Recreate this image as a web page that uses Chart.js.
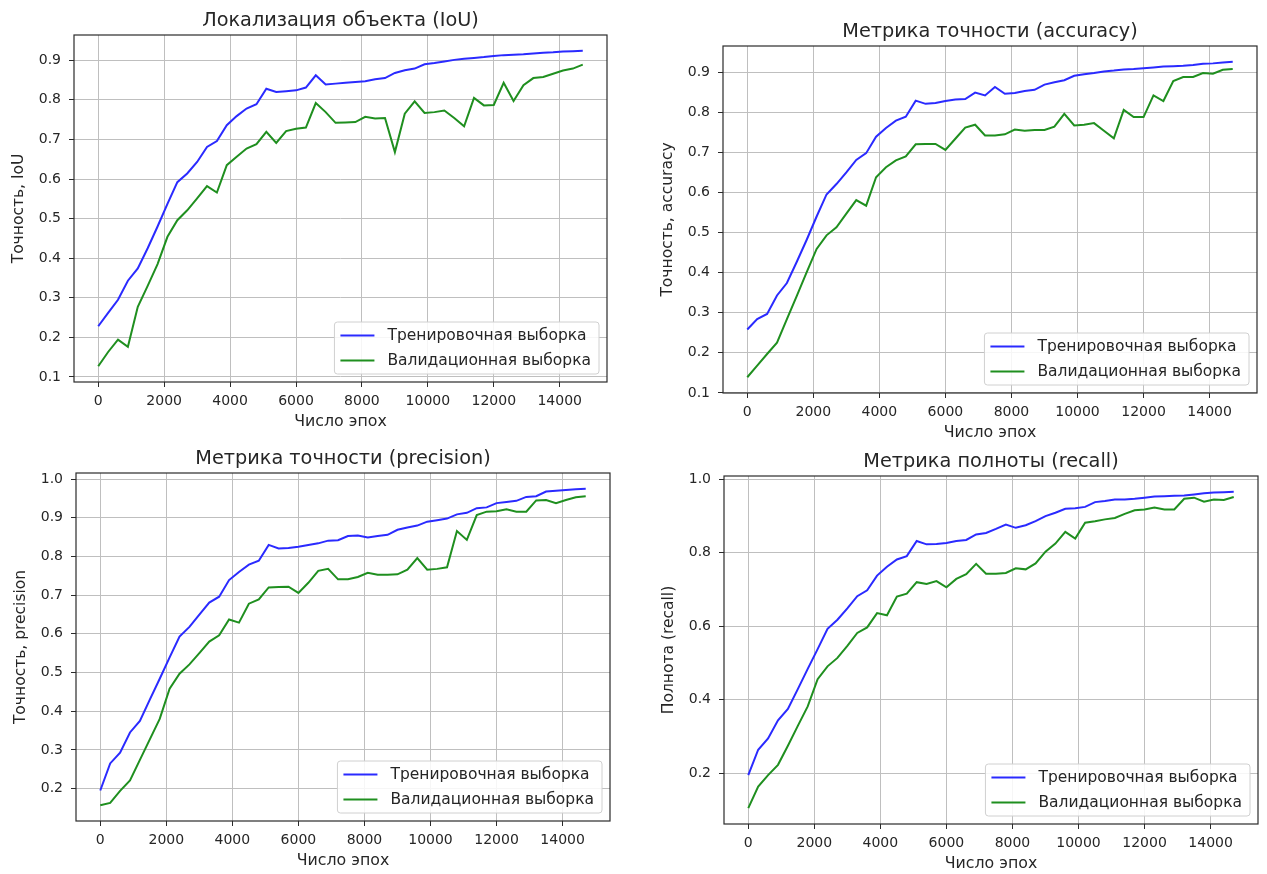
<!DOCTYPE html>
<html>
<head>
<meta charset="utf-8">
<script src="https://cdn.jsdelivr.net/npm/chart.js@4.4.1/dist/chart.umd.min.js"></script>
<style>
  html, body { margin: 0; padding: 0; background: #ffffff; }
  #wrap { position: relative; width: 1267px; height: 874px; overflow: hidden; background: #ffffff; }
  #wrap canvas { position: absolute; left: 0; top: 0; }
</style>
</head>
<body>
<div id="wrap">
  <canvas id="cIou" width="1267" height="874"></canvas>
  <canvas id="cAcc" width="1267" height="874"></canvas>
  <canvas id="cPrec" width="1267" height="874"></canvas>
  <canvas id="cRec" width="1267" height="874"></canvas>
</div>
<script>
// Training epochs at which the metrics were logged
const epochs = [0, 300, 600, 900, 1200, 1500, 1800, 2100, 2400, 2700,
  3000, 3300, 3600, 3900, 4200, 4500, 4800, 5100, 5400, 5700,
  6000, 6300, 6600, 6900, 7200, 7500, 7800, 8100, 8400, 8700,
  9000, 9300, 9600, 9900, 10200, 10500, 10800, 11100, 11400, 11700,
  12000, 12300, 12600, 12900, 13200, 13500, 13800, 14100, 14400, 14700];

// IoU
const iouTrain = [0.228, 0.262, 0.295, 0.343, 0.374, 0.425, 0.480, 0.537, 0.592, 0.614,
  0.643, 0.681, 0.696, 0.736, 0.759, 0.778, 0.789, 0.828, 0.820, 0.822,
  0.824, 0.831, 0.862, 0.839, 0.841, 0.843, 0.845, 0.847, 0.852, 0.855,
  0.868, 0.875, 0.879, 0.890, 0.893, 0.897, 0.901, 0.904, 0.906, 0.908,
  0.911, 0.913, 0.914, 0.915, 0.917, 0.919, 0.920, 0.922, 0.923, 0.924];
const iouVal = [0.127, 0.163, 0.194, 0.176, 0.277, 0.330, 0.385, 0.454, 0.496, 0.521,
  0.551, 0.582, 0.566, 0.635, 0.656, 0.677, 0.688, 0.719, 0.691, 0.721,
  0.727, 0.730, 0.792, 0.769, 0.742, 0.743, 0.744, 0.757, 0.753, 0.754,
  0.668, 0.765, 0.796, 0.767, 0.769, 0.773, 0.754, 0.733, 0.805, 0.786,
  0.787, 0.843, 0.797, 0.837, 0.855, 0.858, 0.866, 0.874, 0.879, 0.889];

// accuracy
const accTrain = [0.258, 0.284, 0.297, 0.343, 0.374, 0.427, 0.482, 0.540, 0.595, 0.621,
  0.650, 0.681, 0.698, 0.739, 0.761, 0.779, 0.789, 0.829, 0.821, 0.823,
  0.828, 0.832, 0.833, 0.849, 0.842, 0.863, 0.846, 0.848, 0.853, 0.856,
  0.869, 0.875, 0.880, 0.891, 0.895, 0.898, 0.902, 0.904, 0.907, 0.908,
  0.910, 0.912, 0.914, 0.915, 0.916, 0.918, 0.921, 0.922, 0.924, 0.926];
const accVal = [0.139, 0.168, 0.197, 0.225, 0.284, 0.342, 0.401, 0.459, 0.493, 0.513,
  0.547, 0.581, 0.567, 0.638, 0.663, 0.680, 0.690, 0.720, 0.721, 0.721,
  0.706, 0.734, 0.762, 0.769, 0.742, 0.742, 0.745, 0.757, 0.754, 0.756,
  0.756, 0.764, 0.796, 0.767, 0.769, 0.773, 0.754, 0.735, 0.806, 0.788,
  0.788, 0.842, 0.828, 0.878, 0.888, 0.888, 0.898, 0.896, 0.906, 0.908];

// precision
const precTrain = [0.195, 0.265, 0.293, 0.345, 0.375, 0.430, 0.484, 0.539, 0.593, 0.618,
  0.650, 0.681, 0.696, 0.739, 0.760, 0.779, 0.789, 0.830, 0.821, 0.822,
  0.825, 0.830, 0.834, 0.841, 0.842, 0.853, 0.854, 0.849, 0.853, 0.856,
  0.869, 0.875, 0.880, 0.890, 0.894, 0.898, 0.909, 0.913, 0.925, 0.927,
  0.938, 0.941, 0.944, 0.954, 0.956, 0.968, 0.970, 0.972, 0.974, 0.975];
const precVal = [0.157, 0.163, 0.194, 0.221, 0.274, 0.327, 0.380, 0.458, 0.497, 0.521,
  0.550, 0.580, 0.596, 0.637, 0.629, 0.678, 0.689, 0.720, 0.721, 0.722,
  0.706, 0.732, 0.763, 0.768, 0.741, 0.741, 0.747, 0.758, 0.753, 0.753,
  0.754, 0.766, 0.796, 0.766, 0.768, 0.772, 0.866, 0.843, 0.907, 0.916,
  0.917, 0.922, 0.916, 0.916, 0.945, 0.946, 0.938, 0.946, 0.953, 0.956];

// recall
const recTrain = [0.195, 0.264, 0.295, 0.344, 0.375, 0.429, 0.484, 0.538, 0.593, 0.618,
  0.649, 0.682, 0.698, 0.738, 0.762, 0.782, 0.791, 0.832, 0.823, 0.824,
  0.827, 0.832, 0.835, 0.850, 0.854, 0.865, 0.877, 0.868, 0.875, 0.886,
  0.900, 0.909, 0.920, 0.921, 0.925, 0.938, 0.941, 0.945, 0.945, 0.947,
  0.950, 0.953, 0.954, 0.955, 0.956, 0.959, 0.962, 0.964, 0.965, 0.966];
const recVal = [0.105, 0.164, 0.195, 0.223, 0.275, 0.329, 0.382, 0.456, 0.491, 0.514,
  0.547, 0.582, 0.597, 0.636, 0.630, 0.681, 0.689, 0.720, 0.715, 0.723,
  0.706, 0.729, 0.742, 0.770, 0.743, 0.743, 0.745, 0.758, 0.755, 0.771,
  0.803, 0.825, 0.857, 0.839, 0.882, 0.886, 0.891, 0.895, 0.906, 0.916,
  0.918, 0.923, 0.918, 0.918, 0.947, 0.950, 0.939, 0.945, 0.944, 0.952];

// Tick labels
const xTicks = [0, 2000, 4000, 6000, 8000, 10000, 12000, 14000];
const yTicksTenth = [0.1, 0.2, 0.3, 0.4, 0.5, 0.6, 0.7, 0.8, 0.9];
const yTicksTenthTo1 = [0.2, 0.3, 0.4, 0.5, 0.6, 0.7, 0.8, 0.9, 1.0];
const yTicksFifth = [0.2, 0.4, 0.6, 0.8, 1.0];

// Text
const trainLabel = 'Тренировочная выборка';
const valLabel = 'Валидационная выборка';
const xTitle = 'Число эпох';

const FONT = "'DejaVu Sans', 'Liberation Sans', sans-serif";
const TEXT = '#262626';
const PAGE_W = 1267, PAGE_H = 874;
const Y_AXIS_W = 74;   // room left of each plot for tick labels and the axis title
const X_AXIS_H = 50;   // room below each plot

// Outline of the plotting area (all four spines)
const framePlugin = {
  id: 'frame',
  afterDatasetsDraw(chart) {
    const { ctx, chartArea: a } = chart;
    ctx.save();
    ctx.strokeStyle = '#2b2b2b';
    ctx.lineWidth = 1.2;
    ctx.strokeRect(a.left, a.top, a.right - a.left, a.bottom - a.top);
    ctx.restore();
  }
};

// Boxed legend in the lower right corner of the plotting area
const boxLegendPlugin = {
  id: 'boxLegend',
  afterDatasetsDraw(chart) {
    const { ctx, chartArea: a } = chart;
    const sets = chart.data.datasets;
    ctx.save();
    ctx.font = '15.5px ' + FONT;
    let tw = 0;
    sets.forEach(d => { tw = Math.max(tw, ctx.measureText(d.label).width); });
    const padL = 6, lineLen = 34, gap = 13, padR = 8, rowH = 25, padV = 0.5;
    const w = padL + lineLen + gap + tw + padR;
    const h = rowH * sets.length + padV * 2 + 1;
    const x0 = a.right - 8 - w;
    const y0 = a.bottom - 8 - h;
    ctx.beginPath();
    ctx.roundRect(x0, y0, w, h, 3);
    ctx.fillStyle = 'rgba(255,255,255,0.85)';
    ctx.fill();
    ctx.strokeStyle = '#d0d0d0';
    ctx.lineWidth = 1;
    ctx.stroke();
    sets.forEach((d, i) => {
      const cy = y0 + padV + rowH * i + rowH / 2 + 0.5;
      ctx.beginPath();
      ctx.moveTo(x0 + padL, cy);
      ctx.lineTo(x0 + padL + lineLen, cy);
      ctx.strokeStyle = d.borderColor;
      ctx.lineWidth = d.borderWidth;
      ctx.stroke();
      ctx.fillStyle = TEXT;
      ctx.textBaseline = 'middle';
      ctx.textAlign = 'left';
      ctx.fillText(d.label, x0 + padL + lineLen + gap, cy);
    });
    ctx.restore();
  }
};

// Subplot heading above the plotting area
const headingPlugin = {
  id: 'heading',
  afterDraw(chart, args, opts) {
    const { ctx, chartArea: a } = chart;
    ctx.save();
    ctx.font = '19.3px ' + FONT;
    ctx.fillStyle = TEXT;
    ctx.textAlign = 'center';
    ctx.textBaseline = 'middle';
    ctx.fillText(opts.text, (a.left + a.right) / 2, a.top - 14);
    ctx.restore();
  }
};

function paddedRange(values, frac) {
  const lo = Math.min(...values), hi = Math.max(...values);
  const m = (hi - lo) * frac;
  return [lo - m, hi + m];
}

function makeChart(id, box, heading, yTitle, yTicks, train, val) {
  const [xMin, xMax] = paddedRange(epochs, 0.05);
  const [yMin, yMax] = paddedRange(train.concat(val), 0.05);
  const pts = arr => arr.map((v, i) => ({ x: epochs[i], y: v }));
  const gridCfg = { color: '#bfbfbf', lineWidth: 1, drawTicks: true, tickLength: 5, tickColor: '#2b2b2b', tickWidth: 1 };
  return new Chart(document.getElementById(id), {
    type: 'line',
    data: {
      datasets: [
        { label: trainLabel, data: pts(train), borderColor: '#2a2aff', borderWidth: 2, pointRadius: 0, tension: 0, fill: false },
        { label: valLabel, data: pts(val), borderColor: '#1f8f1f', borderWidth: 2, pointRadius: 0, tension: 0, fill: false }
      ]
    },
    options: {
      responsive: false,
      animation: false,
      devicePixelRatio: 1,
      events: [],
      layout: {
        padding: {
          left: box.left - Y_AXIS_W,
          top: box.top,
          right: PAGE_W - box.right,
          bottom: PAGE_H - box.bottom - X_AXIS_H
        }
      },
      scales: {
        x: {
          type: 'linear',
          min: xMin,
          max: xMax,
          afterBuildTicks: s => { s.ticks = xTicks.map(v => ({ value: v })); },
          afterFit: s => { s.height = X_AXIS_H; },
          grid: gridCfg,
          border: { display: false },
          ticks: { font: { family: FONT, size: 14 }, color: TEXT, padding: 6, maxRotation: 0, autoSkip: false,
                   callback: v => String(v) },
          title: { display: true, text: xTitle, font: { family: FONT, size: 15.8 }, color: TEXT, padding: { top: 0, bottom: 1 } }
        },
        y: {
          type: 'linear',
          min: yMin,
          max: yMax,
          afterBuildTicks: s => { s.ticks = yTicks.map(v => ({ value: v })); },
          afterFit: s => { s.width = Y_AXIS_W; },
          grid: gridCfg,
          border: { display: false },
          ticks: { font: { family: FONT, size: 14 }, color: TEXT, padding: 8, autoSkip: false,
                   callback: v => Number(v).toFixed(1) },
          title: { display: true, text: yTitle, font: { family: FONT, size: 15.5 }, color: TEXT, padding: { top: 10, bottom: 0 } }
        }
      },
      plugins: {
        legend: { display: false },
        tooltip: { enabled: false },
        heading: { text: heading }
      }
    },
    plugins: [framePlugin, boxLegendPlugin, headingPlugin]
  });
}

makeChart('cIou',  { left: 74,  top: 35,  right: 607,  bottom: 382 },
  'Локализация объекта (IoU)', 'Точность, IoU', yTicksTenth, iouTrain, iouVal);
makeChart('cAcc',  { left: 723, top: 46,  right: 1257, bottom: 393 },
  'Метрика точности (accuracy)', 'Точность, accuracy', yTicksTenth, accTrain, accVal);
makeChart('cPrec', { left: 76,  top: 473, right: 610,  bottom: 821 },
  'Метрика точности (precision)', 'Точность, precision', yTicksTenthTo1, precTrain, precVal);
makeChart('cRec',  { left: 724, top: 476, right: 1258, bottom: 824 },
  'Метрика полноты (recall)', 'Полнота (recall)', yTicksFifth, recTrain, recVal);
</script>
</body>
</html>
